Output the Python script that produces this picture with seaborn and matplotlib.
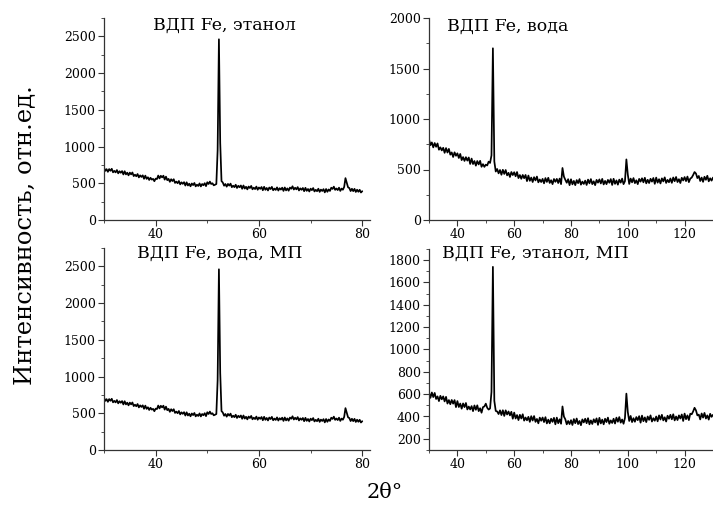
import numpy as np
import pandas as pd
import matplotlib
matplotlib.use("Agg")
import matplotlib.pyplot as plt
from matplotlib.ticker import MultipleLocator
import seaborn as sns

# ---------------- data ----------------
# left panels: 2theta from 30 to 80, step 0.25
step_left = 0.25
int_etanol = [
    712, 669, 692, 656,   # 30
    693, 670, 697, 649,   # 31
    669, 648, 680, 635,   # 32
    664, 643, 666, 620,   # 33
    664, 621, 644, 608,   # 34
    645, 621, 647, 598,   # 35
    617, 595, 626, 580,   # 36
    608, 586, 608, 561,   # 37
    604, 560, 582, 545,   # 38
    575, 550, 560, 528,   # 39
    563, 557, 605, 566,   # 40
    602, 580, 603, 550,   # 41
    590, 542, 560, 520,   # 42
    555, 530, 555, 505,   # 43
    523, 500, 531, 485,   # 44
    513, 492, 515, 469,   # 45
    513, 470, 494, 459,   # 46
    497, 475, 504, 458,   # 47
    481, 463, 498, 457,   # 48
    490, 473, 501, 461,   # 49
    514, 490, 523, 490,   # 50
    500, 472, 480, 490,   # 51
    950, 2460, 1050, 530, # 52
    510, 467, 490, 454,   # 53
    491, 468, 495, 447,   # 54
    467, 447, 480, 436,   # 55
    466, 446, 470, 425,   # 56
    470, 428, 452, 417,   # 57
    456, 435, 464, 418,   # 58
    440, 421, 455, 412,   # 59
    443, 424, 449, 405,   # 60
    452, 411, 436, 402,   # 61
    442, 421, 451, 405,   # 62
    428, 409, 444, 401,   # 63
    433, 414, 440, 396,   # 64
    443, 403, 430, 399,   # 65
    442, 425, 459, 415,   # 66
    439, 417, 448, 402,   # 67
    431, 411, 436, 392,   # 68
    438, 397, 422, 388,   # 69
    427, 406, 435, 389,   # 70
    411, 392, 426, 383,   # 71
    414, 395, 420, 376,   # 72
    422, 384, 416, 396,   # 73
    440, 423, 454, 410,   # 74
    429, 407, 440, 396,   # 75
    428, 412, 450, 570,   # 76
    505, 445, 435, 394,   # 77
    425, 393, 424, 382,   # 78
    412, 384, 411, 374,   # 79
    392,                  # 80
]
# bottom-left panel looks identical to the top-left one
int_voda_mp = list(int_etanol)

# right panels: 2theta from 30 to 130, step 0.5
step_right = 0.5
int_voda = [
    798, 741, 768, 719, 762, 725, 758, 696, 719, 689,    # 30-34.5
    715, 665, 712, 668, 704, 647, 669, 624, 670, 636,    # 35-39.5
    660, 614, 654, 593, 623, 585, 622, 588, 619, 555,    # 40-44.5
    608, 554, 584, 538, 584, 550, 586, 527, 553, 526,    # 45-49.5
    548, 540, 578, 565, 640, 1700, 580, 480, 505, 462,   # 50-54.5
    495, 448, 497, 456, 495, 442, 467, 426, 475, 445,    # 55-59.5
    473, 433, 475, 415, 445, 408, 446, 414, 446, 385,    # 60-64.5
    440, 388, 420, 376, 424, 392, 430, 373, 401, 376,    # 65-69.5
    407, 363, 415, 377, 418, 367, 394, 355, 406, 378,    # 70-74.5
    407, 366, 410, 355, 515, 430, 398, 369, 404, 345,    # 75-79.5
    403, 353, 387, 345, 395, 365, 405, 350, 380, 357,    # 80-84.5
    390, 347, 400, 363, 405, 355, 383, 345, 397, 370,    # 85-89.5
    402, 362, 407, 352, 387, 355, 397, 369, 405, 347,    # 90-94.5
    408, 358, 392, 350, 400, 370, 410, 355, 385, 600,    # 95-99.5
    450, 357, 410, 373, 415, 365, 393, 355, 407, 380,    # 100-104.5
    413, 373, 418, 363, 398, 366, 408, 380, 416, 358,    # 105-109.5
    420, 370, 404, 362, 412, 382, 422, 367, 397, 374,    # 110-114.5
    411, 368, 421, 384, 426, 376, 404, 366, 418, 391,    # 115-119.5
    425, 385, 430, 375, 410, 420, 445, 475, 460, 415,    # 120-124.5
    436, 386, 420, 378, 428, 398, 438, 383, 413, 390,    # 125-129.5
    420,                                                 # 130
]
int_etanol_mp = [
    615, 567, 615, 574, 611, 557, 580, 538, 585, 554,    # 30-34.5
    580, 535, 576, 516, 547, 510, 548, 515, 547, 484,    # 35-39.5
    538, 485, 516, 470, 517, 484, 521, 463, 489, 463,    # 40-44.5
    493, 448, 499, 460, 500, 448, 474, 434, 484, 490,    # 45-49.5
    515, 478, 462, 472, 620, 1740, 540, 450, 445, 422,   # 50-54.5
    455, 413, 456, 405, 455, 418, 445, 410, 442, 380,    # 55-59.5
    435, 382, 413, 368, 415, 382, 420, 363, 391, 366,    # 60-64.5
    397, 352, 403, 364, 404, 352, 378, 339, 390, 362,    # 65-69.5
    391, 350, 394, 338, 372, 339, 380, 352, 388, 330,    # 70-74.5
    390, 340, 375, 335, 490, 400, 375, 330, 360, 332,    # 75-79.5
    367, 324, 377, 340, 382, 332, 360, 322, 374, 347,    # 80-84.5
    380, 340, 385, 330, 365, 333, 375, 347, 383, 325,    # 85-89.5
    388, 338, 372, 330, 380, 350, 390, 335, 365, 342,    # 90-94.5
    380, 337, 390, 353, 395, 345, 373, 335, 387, 605,    # 95-99.5
    440, 360, 405, 350, 385, 353, 395, 367, 403, 345,    # 100-104.5
    408, 358, 392, 350, 400, 370, 410, 355, 385, 362,    # 105-109.5
    400, 357, 410, 373, 415, 365, 393, 355, 407, 380,    # 110-114.5
    415, 375, 420, 365, 400, 368, 410, 382, 418, 360,    # 115-119.5
    426, 376, 410, 368, 425, 420, 445, 478, 455, 410,    # 120-124.5
    417, 374, 427, 390, 432, 382, 410, 372, 424, 397,    # 125-129.5
    415,                                                 # 130
]

titles = ["ВДП Fe, этанол", "ВДП Fe, вода", "ВДП Fe, вода, МП", "ВДП Fe, этанол, МП"]
ylabel = "Интенсивность, отн.ед."
xlabel = "2θ°"

# ---------------- style ----------------
sns.set_style("ticks")
plt.rcParams["font.family"] = ["DejaVu Serif", "DejaVu Sans"]
plt.rcParams["xtick.direction"] = "out"
plt.rcParams["ytick.direction"] = "out"

fig = plt.figure(figsize=(7.13, 5.15), dpi=100)

W, H = 713.0, 515.0
def box(l, t, r, b):
    return [l / W, 1 - b / H, (r - l) / W, (b - t) / H]

panels = [
    dict(pos=box(104, 18, 370, 220), y=int_etanol, step=step_left, xlim=(30, 81.5),
         ylim=(0, 2750), yt=(0, 2500, 500), ymin=250, xmaj=[40, 60, 80], title=titles[0],
         tpos=(0.454, 0.965)),
    dict(pos=box(429, 18, 713, 220), y=int_voda, step=step_right, xlim=(30, 130),
         ylim=(0, 2000), yt=(0, 2000, 500), ymin=250, xmaj=[40, 60, 80, 100, 120], title=titles[1],
         tpos=(0.278, 0.957)),
    dict(pos=box(104, 248, 370, 450), y=int_voda_mp, step=step_left, xlim=(30, 81.5),
         ylim=(0, 2750), yt=(0, 2500, 500), ymin=250, xmaj=[40, 60, 80], title=titles[2],
         tpos=(0.436, 0.974)),
    dict(pos=box(429, 249, 713, 450), y=int_etanol_mp, step=step_right, xlim=(30, 130),
         ylim=(100, 1900), yt=(200, 1800, 200), ymin=100, xmaj=[40, 60, 80, 100, 120], title=titles[3],
         tpos=(0.376, 0.979)),
]

for p in panels:
    ax = fig.add_axes(p["pos"])
    yv = np.array(p["y"], dtype=float)
    xv = 30 + p["step"] * np.arange(len(yv))
    df = pd.DataFrame({"x": xv, "y": yv})
    sns.lineplot(data=df, x="x", y="y", ax=ax, color="black", linewidth=1.25,
                 estimator=None, sort=False)
    ax.set_xlim(*p["xlim"])
    ax.set_ylim(*p["ylim"])
    ax.set_xticks(p["xmaj"])
    ax.xaxis.set_minor_locator(MultipleLocator(10))
    a, b, s = p["yt"]
    ax.set_yticks(np.arange(a, b + s / 2, s))
    ax.yaxis.set_minor_locator(MultipleLocator(p["ymin"]))
    ax.set_xlabel("")
    ax.set_ylabel("")
    ax.tick_params(which="major", length=4, width=0.8, labelsize=9, pad=2,
                   labelcolor="black", color="#333333")
    ax.tick_params(which="minor", length=2.5, width=0.6, color="#333333")
    for sp in ["top", "right"]:
        ax.spines[sp].set_visible(False)
    for sp in ["left", "bottom"]:
        ax.spines[sp].set_linewidth(0.9)
        ax.spines[sp].set_color("#333333")
    ax.set_facecolor("white")
    ax.text(p["tpos"][0], p["tpos"][1], p["title"], transform=ax.transAxes,
            ha="center", va="center", fontsize=12.5, color="black")

fig.text(0.035, 1 - 235 / H, ylabel, rotation=90, ha="center", va="center",
         fontsize=17.5, color="black")
fig.text(385 / W, 1 - 493 / H, xlabel, ha="center", va="center", fontsize=15, color="black")

fig.savefig("out.png", dpi=100, facecolor="white")
